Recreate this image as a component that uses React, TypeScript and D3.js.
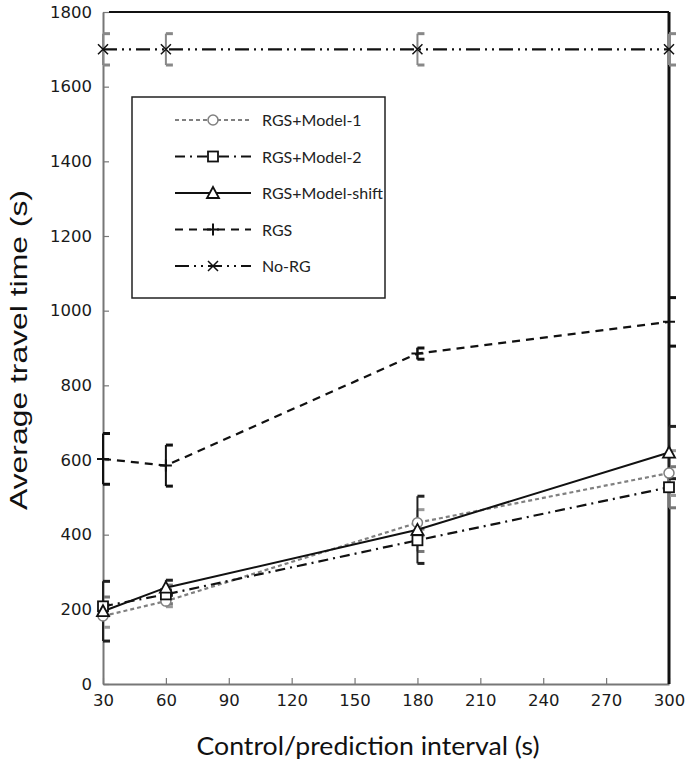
import * as d3 from "d3";
import React, { useEffect, useRef } from "react";

// control/prediction interval (s)
const intervals = [30, 60, 180, 300];
const xTicks = [30, 60, 90, 120, 150, 180, 210, 240, 270, 300];
const yTicks = [0, 200, 400, 600, 800, 1000, 1200, 1400, 1600, 1800];

// average travel time (s)
const model1 = [182, 222, 432, 565];
const model1Err = [30, 15, 35, 60];
const model2 = [208, 240, 385, 527];
const model2Err = [25, 25, 30, 55];
const modelShift = [195, 258, 413, 620];
const modelShiftErr = [80, 20, 90, 70];
const rgs = [603, 585, 885, 970];
const rgsErr = [68, 55, 15, 65];
const noRG = [1700, 1700, 1700, 1700];
const noRGErr = [42, 42, 42, 42];

const series = [
  { name: "RGS+Model-1", values: model1, err: model1Err, color: "#808080", errColor: "#999", dash: "4,3", marker: "circle" },
  { name: "RGS+Model-2", values: model2, err: model2Err, color: "#111", errColor: "#777", dash: "10,5,2,5", marker: "square" },
  { name: "RGS+Model-shift", values: modelShift, err: modelShiftErr, color: "#111", errColor: "#222", dash: null, marker: "triangle" },
  { name: "RGS", values: rgs, err: rgsErr, color: "#111", errColor: "#111", dash: "8,6", marker: "plus" },
  { name: "No-RG", values: noRG, err: noRGErr, color: "#111", errColor: "#888", dash: "14,5,2,5,2,5", marker: "cross" },
];

const drawMarker = (g, type, x, y, color) => {
  if (type === "circle") {
    g.append("circle").attr("cx", x).attr("cy", y).attr("r", 5)
      .attr("fill", "white").attr("stroke", color).attr("stroke-width", 1.5);
  } else if (type === "square") {
    g.append("rect").attr("x", x - 5).attr("y", y - 5).attr("width", 10).attr("height", 10)
      .attr("fill", "white").attr("stroke", color).attr("stroke-width", 1.8);
  } else if (type === "triangle") {
    g.append("path").attr("d", `M${x},${y - 6}L${x + 6},${y + 5}L${x - 6},${y + 5}Z`)
      .attr("fill", "white").attr("stroke", color).attr("stroke-width", 1.8);
  } else if (type === "plus") {
    g.append("path").attr("d", `M${x - 6},${y}H${x + 6}M${x},${y - 6}V${y + 6}`)
      .attr("stroke", color).attr("stroke-width", 2);
  } else if (type === "cross") {
    g.append("path").attr("d", `M${x - 5},${y - 5}L${x + 5},${y + 5}M${x + 5},${y - 5}L${x - 5},${y + 5}`)
      .attr("stroke", color).attr("stroke-width", 1.5);
  }
};

const App = () => {
  const svgRef = useRef(null);

  useEffect(() => {
    const width = 685;
    const height = 767;
    const left = 103, right = 669, top = 12, bottom = 684;

    const svg = d3.select(svgRef.current).attr("width", width).attr("height", height);
    svg.selectAll("*").remove();
    svg.append("rect").attr("width", width).attr("height", height).attr("fill", "white");

    const x = d3.scaleLinear().domain([30, 300]).range([left, right]);
    const y = d3.scaleLinear().domain([0, 1800]).range([bottom, top]);

    // axes
    const xAxis = d3.axisBottom(x).tickValues(xTicks).tickFormat(d3.format("d"))
      .tickSizeInner(-6).tickSizeOuter(0).tickPadding(10);
    const yAxis = d3.axisLeft(y).tickValues(yTicks).tickFormat(d3.format("d"))
      .tickSizeInner(-6).tickSizeOuter(0).tickPadding(11);

    const gx = svg.append("g").attr("transform", `translate(0,${bottom})`).call(xAxis);
    const gy = svg.append("g").attr("transform", `translate(${left},0)`).call(yAxis);
    [gx, gy].forEach((g) => {
      g.select(".domain").attr("stroke", "#777").attr("stroke-width", 2);
      g.selectAll(".tick line").attr("stroke", "#777").attr("stroke-width", 1.2);
      g.selectAll(".tick text")
        .attr("fill", "#1a1a1a")
        .style("font-family", "DejaVu Sans")
        .style("font-size", "16.5px");
    });

    // frame top and right
    svg.append("line").attr("x1", left + 6).attr("x2", right).attr("y1", top).attr("y2", top)
      .attr("stroke", "#111").attr("stroke-width", 2);
    svg.append("line").attr("x1", right).attr("x2", right).attr("y1", top).attr("y2", bottom)
      .attr("stroke", "#111").attr("stroke-width", 3);

    // error bars
    series.forEach((s) => {
      const g = svg.append("g");
      s.values.forEach((v, i) => {
        const cx = x(intervals[i]);
        const y1 = y(v + s.err[i]);
        const y2 = y(v - s.err[i]);
        g.append("line").attr("x1", cx).attr("x2", cx).attr("y1", y1).attr("y2", y2)
          .attr("stroke", s.errColor).attr("stroke-width", 2);
        [y1, y2].forEach((yy) =>
          g.append("line").attr("x1", cx).attr("x2", cx + 7).attr("y1", yy).attr("y2", yy)
            .attr("stroke", s.errColor).attr("stroke-width", 3)
        );
      });
    });

    // lines
    const line = d3.line().x((d, i) => x(intervals[i])).y((d) => y(d));
    series.forEach((s) => {
      svg.append("path")
        .datum(s.values)
        .attr("d", line)
        .attr("fill", "none")
        .attr("stroke", s.color)
        .attr("stroke-width", s.dash ? 2.2 : 2)
        .attr("stroke-dasharray", s.dash);
    });

    // markers
    series.forEach((s) => {
      const g = svg.append("g");
      s.values.forEach((v, i) => drawMarker(g, s.marker, x(intervals[i]), y(v), s.color));
    });

    // legend
    const lg = svg.append("g").attr("transform", "translate(132,97)");
    lg.append("rect").attr("width", 253).attr("height", 201)
      .attr("fill", "white").attr("stroke", "#222").attr("stroke-width", 1.5);
    series.forEach((s, i) => {
      const yy = 23 + i * 36.5;
      lg.append("line").attr("x1", 43).attr("x2", 119).attr("y1", yy).attr("y2", yy)
        .attr("stroke", s.color).attr("stroke-width", 2).attr("stroke-dasharray", s.dash);
      drawMarker(lg, s.marker, 81, yy, s.color);
      lg.append("text").attr("x", 130).attr("y", yy + 6)
        .attr("fill", "#222")
        .style("font-family", "Lato")
        .style("font-size", "16px")
        .text(s.name);
    });

    // axis titles
    svg.append("text").attr("x", 368).attr("y", 755).attr("text-anchor", "middle")
      .attr("textLength", 343).attr("lengthAdjust", "spacingAndGlyphs")
      .attr("fill", "#111").style("font-family", "Lato").style("font-size", "25px")
      .text("Control/prediction interval (s)");
    svg.append("text").attr("transform", "translate(27,350) rotate(-90)").attr("text-anchor", "middle")
      .attr("textLength", 320).attr("lengthAdjust", "spacingAndGlyphs")
      .attr("fill", "#111").style("font-family", "Liberation Sans").style("font-size", "24px")
      .text("Average travel time (s)");
  }, []);

  return <svg ref={svgRef} style={{ position: "absolute", left: 0, top: 0 }}></svg>;
};

export default App;
